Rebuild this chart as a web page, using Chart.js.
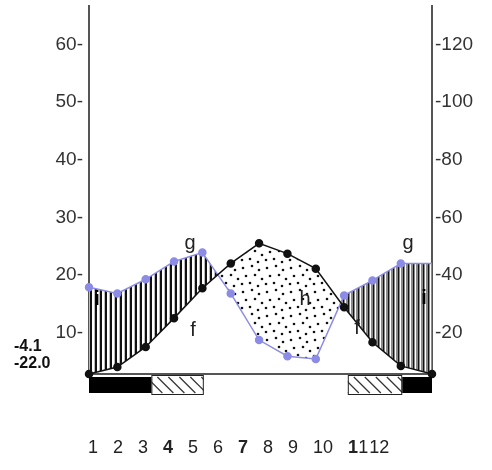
<!DOCTYPE html>
<html>
<head>
<meta charset="utf-8">
<script src="https://cdn.jsdelivr.net/npm/chart.js@4.4.0/dist/chart.umd.min.js"></script>
<style>
html, body { margin: 0; padding: 0; background: #fff; }
#wrap { width: 492px; height: 470px; }
</style>
</head>
<body>
<div id="wrap"><canvas id="myChart"></canvas></div>
<script>
/* climate diagram */
var months = ['1', '2', '3', '4', '5', '6', '7', '8', '9', '10', '11', '12']
// per character: b = bold, n = normal
var monthStyle = ['n', 'n', 'n', 'b', 'n', 'n', 'b', 'n', 'n', 'nn', 'bn', 'nn']
var temperature = [0.0, 1.2, 4.7, 9.7, 14.9, 19.2, 22.7, 20.9, 18.3, 11.6, 5.5, 1.4]
var precipitation = [30.1, 28.0, 32.9, 39.1, 42.2, 28.0, 11.8, 6.2, 5.2, 27.3, 32.5, 38.4]
var minTemps = ['-4.1', '-22.0']
var tempTicks = [10, 20, 30, 40, 50, 60]
var precTicks = [20, 40, 60, 80, 100, 120]
var frostBlack = [[0, 2.2], [11.05, 12.1]]
var frostHatched = [[2.2, 4.05], [9.13, 11.05]]
var xMax = 12.1

var textColor = '#333'
var font = '"Liberation Sans", Arial, sans-serif'

function makeHumidPattern() {
    var c = document.createElement('canvas')
    c.width = 492
    c.height = 4
    var g = c.getContext('2d')
    for (var x = 0; x < 492; x++) {
        var p = x % 5
        if (x < 300) {
            g.fillStyle = p < 2 ? '#111' : (p == 4 ? '#bbb' : '#fff')
        } else {
            g.fillStyle = p == 0 ? '#fff' : (p == 3 ? '#111' : '#8a8a8a')
        }
        g.fillRect(x, 0, 1, 4)
    }
    return g.createPattern(c, 'repeat')
}

function makeDotPattern() {
    var c = document.createElement('canvas')
    c.width = 24
    c.height = 24
    var g = c.getContext('2d')
    g.fillStyle = '#fff'
    g.fillRect(0, 0, 24, 24)
    g.fillStyle = '#111'
    var dots = [[3, 4], [12, 2], [19, 6], [6, 12], [15, 11], [22, 15], [2, 20], [10, 19], [18, 22]]
    dots.forEach(function (d) {
        g.beginPath()
        g.arc(d[0], d[1], 1.3, 0, Math.PI * 2)
        g.fill()
    })
    return g.createPattern(c, 'repeat')
}

var tempData = temperature.map(function (v, i) { return { x: i, y: v } })
tempData.push({ x: xMax, y: temperature[0] })
var precData = precipitation.map(function (v, i) { return { x: i, y: v } })
precData.push({ x: xMax, y: precipitation[precipitation.length - 1] })

var extras = {
    id: 'extras',
    afterDraw: function (chart) {
        var ctx = chart.ctx
        var xs = chart.scales.x
        var area = chart.chartArea
        ctx.save()

        // frost bars under the baseline
        var top = area.bottom + 3
        var h = 16
        frostBlack.forEach(function (r) {
            var x0 = xs.getPixelForValue(r[0]), x1 = xs.getPixelForValue(r[1])
            ctx.fillStyle = '#000'
            ctx.fillRect(x0, top, x1 - x0, h)
        })
        frostHatched.forEach(function (r) {
            var x0 = xs.getPixelForValue(r[0]), x1 = xs.getPixelForValue(r[1])
            ctx.save()
            ctx.beginPath()
            ctx.rect(x0, top - 2, x1 - x0, h + 4)
            ctx.clip()
            ctx.strokeStyle = '#333'
            ctx.lineWidth = 1.2
            for (var x = x0 - h; x < x1 + h; x += 11) {
                ctx.beginPath()
                ctx.moveTo(x, top)
                ctx.lineTo(x + h, top + h)
                ctx.stroke()
            }
            ctx.restore()
            ctx.strokeStyle = '#222'
            ctx.lineWidth = 1
            ctx.strokeRect(x0 + 0.5, top - 1.5, x1 - x0 - 1, h + 3)
        })

        // min temperature labels
        ctx.fillStyle = '#111'
        ctx.font = 'bold 16px ' + font
        ctx.textAlign = 'left'
        ctx.textBaseline = 'middle'
        ctx.fillText(minTemps[0], 14, 347)
        ctx.fillText(minTemps[1], 14, 364)

        // curve letters
        ctx.font = '20px ' + font
        ctx.fillStyle = '#222'
        ctx.textAlign = 'center'
        var letters = [['g', 190, 243], ['g', 408, 243], ['f', 193, 330], ['f', 357, 328], ['h', 305, 299]]
        letters.forEach(function (l) { ctx.fillText(l[0], l[1], l[2]) })
        ctx.font = 'bold 20px ' + font
        ctx.fillStyle = '#000'
        ctx.fillText('i', 97, 299)
        ctx.fillText('i', 424, 298)

        // month labels
        ctx.textAlign = 'left'
        ctx.fillStyle = '#222'
        var cx = 88
        months.forEach(function (m, i) {
            for (var k = 0; k < m.length; k++) {
                ctx.font = (monthStyle[i][k] == 'b' ? 'bold ' : '') + '18px ' + font
                ctx.fillText(m[k], cx, 448)
                cx += ctx.measureText(m[k]).width
            }
            cx += (m == '11') ? 1 : 15
        })
        ctx.restore()
    }
}

function noPad(s) {
    s.paddingTop = 0
    s.paddingBottom = 0
}

var ctx = document.getElementById('myChart')
var config = {
    type: 'line',
    data: {
        datasets: [{
            label: 'temperature',
            data: tempData,
            yAxisID: 'y',
            borderColor: '#111',
            backgroundColor: '#111',
            pointBackgroundColor: '#111',
            pointBorderColor: '#111',
            pointRadius: 3.5,
            borderWidth: 1.5,
            fill: false,
            clip: false
        }, {
            label: 'precipitation',
            data: precData,
            yAxisID: 'y1',
            borderColor: '#8c8ce6',
            backgroundColor: '#8c8ce6',
            pointBackgroundColor: '#8c8ce6',
            pointBorderColor: '#8c8ce6',
            pointRadius: [3.5, 3.5, 3.5, 3.5, 3.5, 3.5, 3.5, 3.5, 3.5, 3.5, 3.5, 3.5, 0],
            borderWidth: 1.5,
            fill: { target: 0, above: makeHumidPattern(), below: makeDotPattern() },
            clip: false
        }]
    },
    options: {
        responsive: true,
        maintainAspectRatio: false,
        animation: false,
        layout: { padding: { top: 4, bottom: 96, left: 0, right: 0 } },
        plugins: {
            legend: { display: false },
            tooltip: { enabled: false }
        },
        scales: {
            x: {
                type: 'linear',
                min: 0,
                max: xMax,
                grid: { display: false, drawTicks: false },
                ticks: { display: false },
                border: { display: true, color: '#555', width: 2 },
                afterFit: function (s) { s.height = 0 }
            },
            y: {
                position: 'left',
                min: 0,
                max: 64,
                grid: { display: false, drawTicks: false },
                border: { display: true, color: '#555', width: 2 },
                afterBuildTicks: function (s) { s.ticks = tempTicks.map(function (v) { return { value: v } }) },
                afterFit: function (s) { s.width = 89; noPad(s) },
                ticks: {
                    color: textColor,
                    font: { size: 19, family: font },
                    padding: 6,
                    labelOffset: 16,
                    callback: function (v) { return v + '-' }
                }
            },
            y1: {
                position: 'right',
                min: 0,
                max: 128,
                grid: { display: false, drawTicks: false },
                border: { display: true, color: '#555', width: 2 },
                afterBuildTicks: function (s) { s.ticks = precTicks.map(function (v) { return { value: v } }) },
                afterFit: function (s) { s.width = 60; noPad(s) },
                ticks: {
                    color: textColor,
                    font: { size: 19, family: font },
                    padding: 3,
                    labelOffset: 16,
                    callback: function (v) { return '-' + v }
                }
            }
        }
    },
    plugins: [extras]
}
var chart = new Chart(ctx, config)
</script>
</body>
</html>
